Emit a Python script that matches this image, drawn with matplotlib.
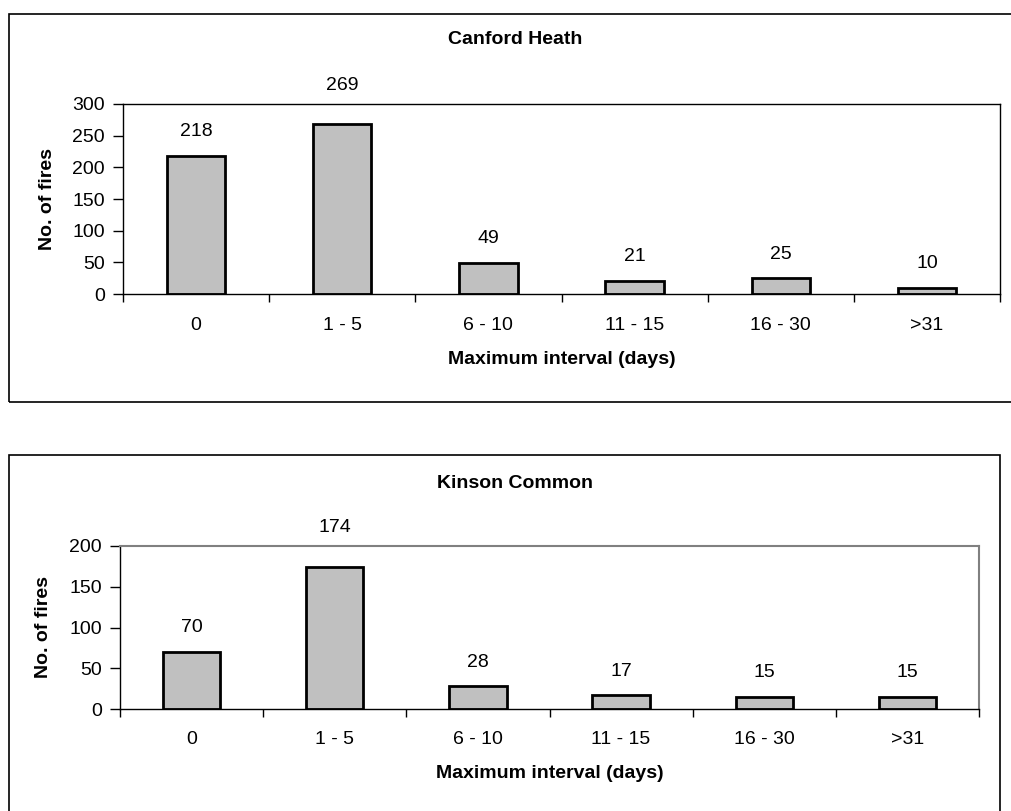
import matplotlib
matplotlib.use('Agg')
import matplotlib.pyplot as plt
from matplotlib.patches import Rectangle

plt.rcParams['font.family'] = ['Liberation Sans', 'DejaVu Sans']

categories = ['0', '1 - 5', '6 - 10', '11 - 15', '16 - 30', '>31']
canford_fires = [218, 269, 49, 21, 25, 10]
kinson_fires = [70, 174, 28, 17, 15, 15]

W, H = 1011, 811
FS = 14
fig = plt.figure(figsize=(W / 100, H / 100), dpi=100)


def fx(px):
    return px / W


def fy(py):
    return 1 - py / H


def panel(frame, ax_box, title, values, ymax, ystep, top_color, title_y, tick_y, xlabel_y, ylabel_x):
    # outer chart frame
    x0, y0, x1, y1 = frame
    fig.patches.append(Rectangle((fx(x0), fy(y1)), fx(x1 - x0), (y1 - y0) / H,
                                 transform=fig.transFigure, fill=False,
                                 edgecolor='black', linewidth=1.2, clip_on=False))
    l, t, r, b = ax_box
    ax = fig.add_axes([fx(l), fy(b), fx(r - l), (b - t) / H])
    n = len(values)
    ax.bar(range(n), values, width=0.4, color='#c0c0c0', edgecolor='black', linewidth=2)
    ax.set_xlim(-0.5, n - 0.5)
    ax.set_ylim(0, ymax)
    ax.set_yticks(range(0, ymax + 1, ystep))
    ax.tick_params(axis='y', direction='out', length=7, width=1, labelsize=FS, pad=6)
    ax.set_xticks([i - 0.5 for i in range(n + 1)])
    ax.set_xticklabels([])
    ax.tick_params(axis='x', direction='out', length=6, width=1)
    for s in ['left', 'bottom']:
        ax.spines[s].set_color('black')
        ax.spines[s].set_linewidth(1)
    for s in ['top', 'right']:
        ax.spines[s].set_color(top_color)
        ax.spines[s].set_linewidth(1.5 if top_color != 'black' else 1)

    px_per_unit = (b - t) / ymax
    for i, v in enumerate(values):
        bar_top = b - v * px_per_unit
        ly = bar_top - 24
        if ly - 10 < t:
            ly = t - 18
        xc = l + (i + 0.5) * (r - l) / n
        fig.text(fx(xc), fy(ly), str(v), ha='center', va='center', fontsize=FS)
        fig.text(fx(xc), fy(tick_y), categories[i], ha='center', va='center', fontsize=FS)

    fig.text(fx(515), fy(title_y), title, ha='center', va='center', fontsize=FS, fontweight='bold')
    fig.text(fx((l + r) / 2), fy(xlabel_y), 'Maximum interval (days)', ha='center', va='center',
             fontsize=FS, fontweight='bold')
    fig.text(fx(ylabel_x), fy((t + b) / 2), 'No. of fires', ha='center', va='center',
             rotation=90, fontsize=FS, fontweight='bold')
    return ax


panel((9, 14, 1030, 402), (123, 104, 1000, 294), 'Canford Heath', canford_fires, 300, 50,
      'black', 40, 325, 360, 47)
panel((9, 455, 1000, 830), (120, 546, 979, 709), 'Kinson Common', kinson_fires, 200, 50,
      '#808080', 484, 740, 773, 44)

fig.savefig('out.png', dpi=100, facecolor='white')
